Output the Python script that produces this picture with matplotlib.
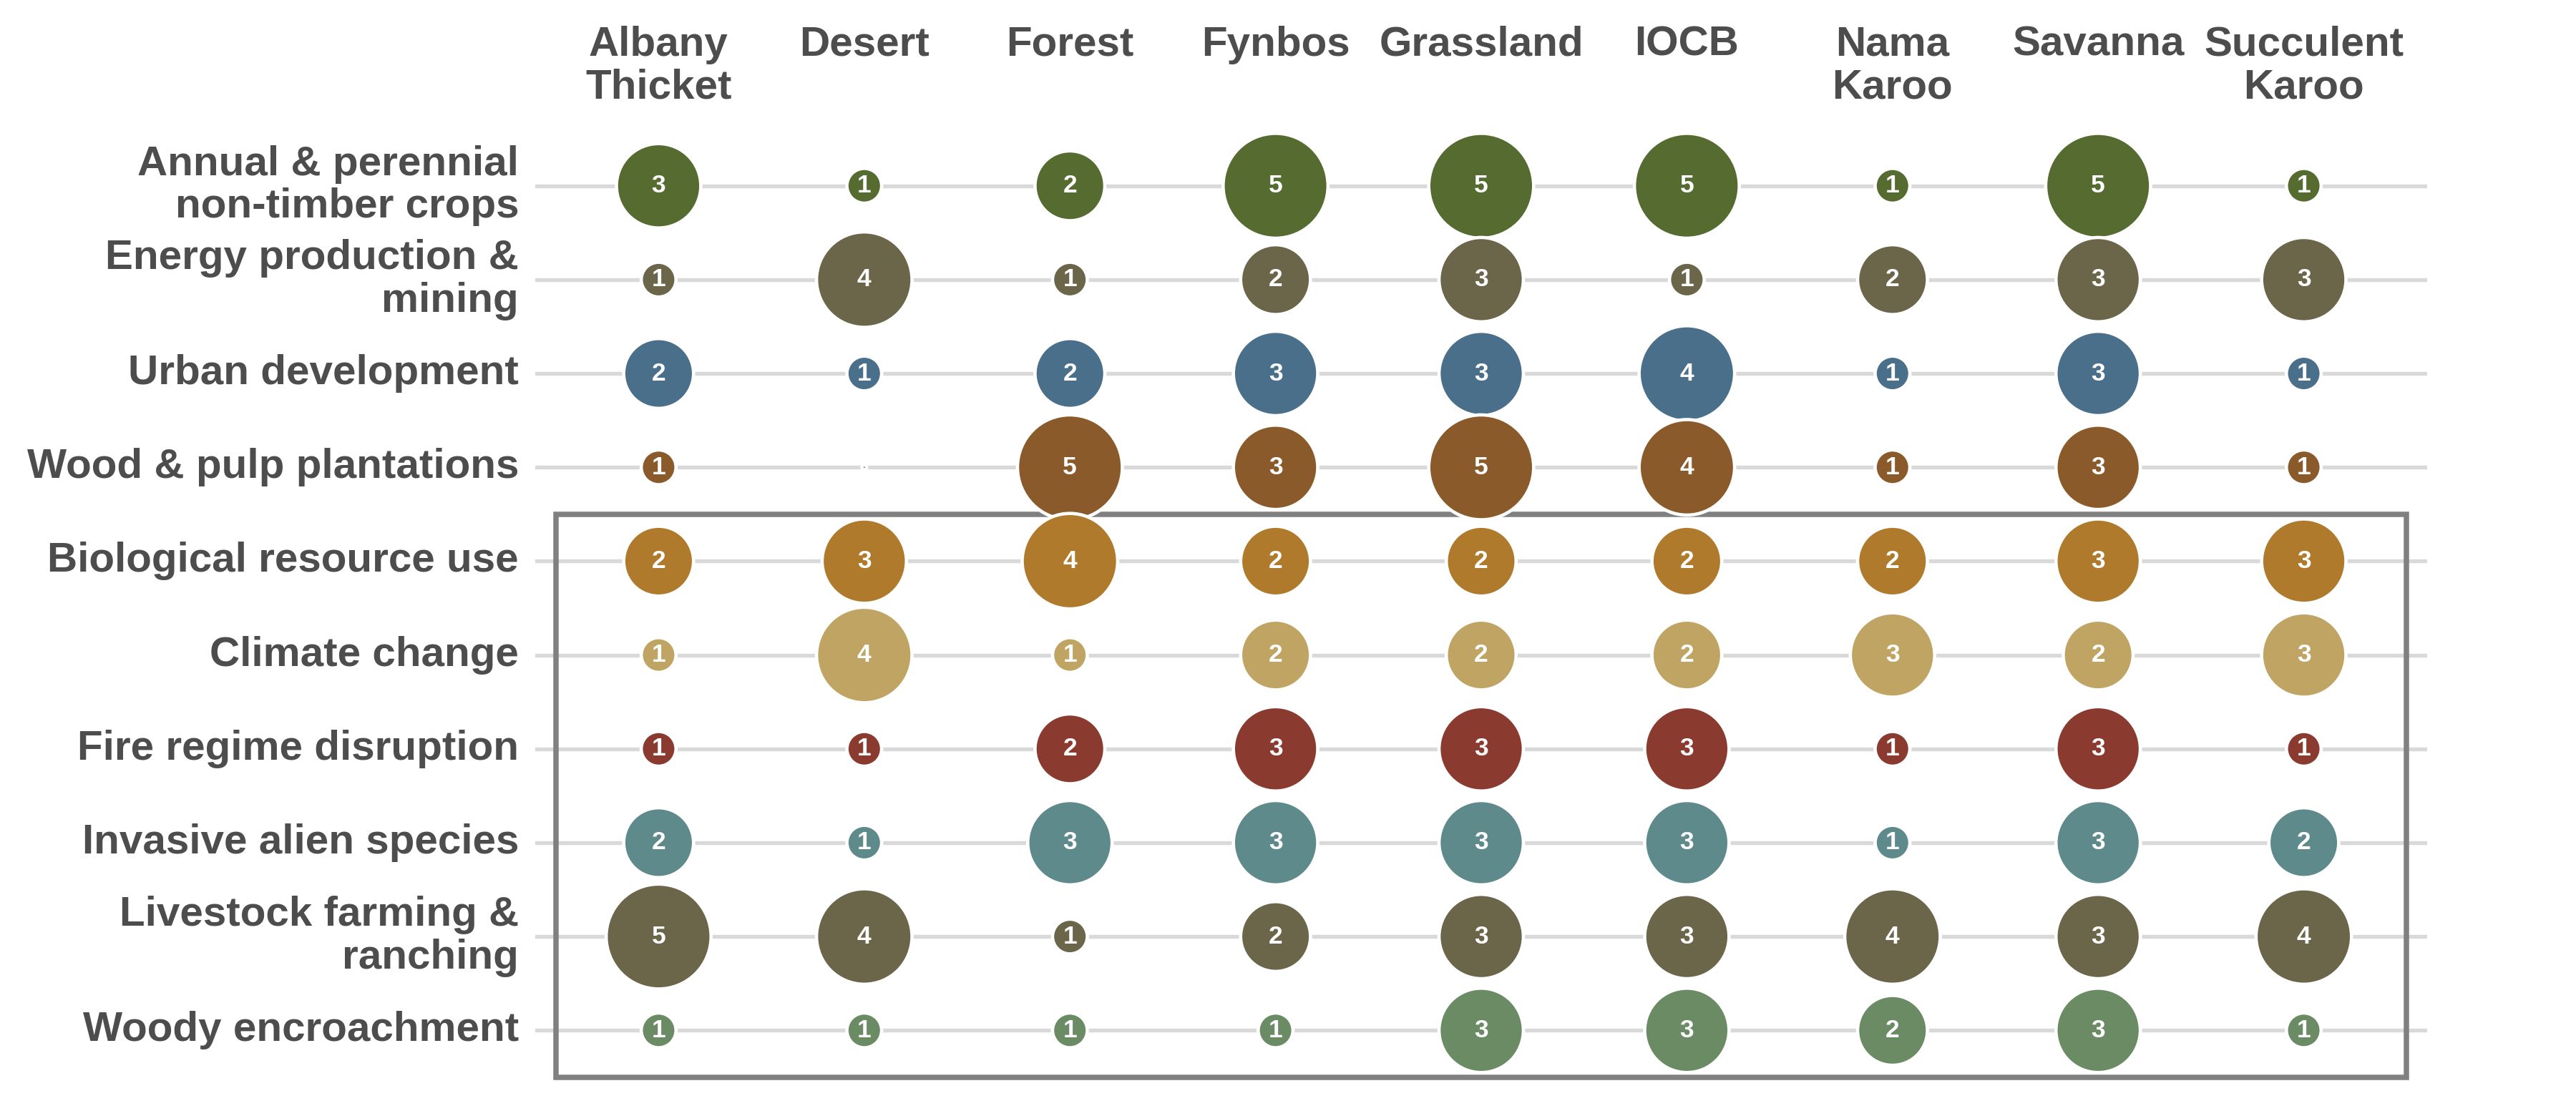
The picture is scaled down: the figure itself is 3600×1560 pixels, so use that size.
import numpy as np
import matplotlib.pyplot as plt
from matplotlib.patches import Rectangle
import matplotlib.transforms as mtransforms

plt.rcParams['font.family'] = ['Liberation Sans', 'DejaVu Sans']

biomes = ['Albany\nThicket', 'Desert', 'Forest', 'Fynbos', 'Grassland', 'IOCB',
          'Nama\nKaroo', 'Savanna', 'Succulent\nKaroo']

threats = ['Annual & perennial\nnon-timber crops', 'Energy production &\nmining',
           'Urban development', 'Wood & pulp plantations', 'Biological resource use',
           'Climate change', 'Fire regime disruption', 'Invasive alien species',
           'Livestock farming &\nranching', 'Woody encroachment']

crops = [3, 1, 2, 5, 5, 5, 1, 5, 1]
energy = [1, 4, 1, 2, 3, 1, 2, 3, 3]
urban = [2, 1, 2, 3, 3, 4, 1, 3, 1]
plantations = [1, 0, 5, 3, 5, 4, 1, 3, 1]
bio_use = [2, 3, 4, 2, 2, 2, 2, 3, 3]
climate = [1, 4, 1, 2, 2, 2, 3, 2, 3]
fire = [1, 1, 2, 3, 3, 3, 1, 3, 1]
invasive = [2, 1, 3, 3, 3, 3, 1, 3, 2]
livestock = [5, 4, 1, 2, 3, 3, 4, 3, 4]
woody = [1, 1, 1, 1, 3, 3, 2, 3, 1]

scores = [crops, energy, urban, plantations, bio_use, climate, fire, invasive,
          livestock, woody]

colors = ['#556B2F', '#6B6549', '#4A6F8A', '#8B5A2B', '#B07A2C',
          '#BFA463', '#8B3A2F', '#5F8A8B', '#6B6549', '#6A8B63']

DPI = 300
fig = plt.figure(figsize=(12, 5.2), dpi=DPI)
ax = fig.add_axes([748 / 3600, 1 - 1519 / 1560, (3392 - 748) / 3600, (1519 - 181) / 1560])
ax.set_xlim(-0.6, len(biomes) - 0.4)
ax.set_ylim(len(threats) - 0.4, -0.6)
ax.axis('off')

text_col = '#4D4D4D'
edge_lw = 1.1

# grid lines
for i in range(len(threats)):
    ax.axhline(i, color='#D9D9D9', lw=1.3, zorder=1)

# box round the second group of threats
ax.add_patch(Rectangle((-0.5, 3.5), len(biomes), 6, fill=False,
                       edgecolor='#808080', lw=1.8, zorder=2))


def diam_pt(v):
    # ggplot style area scale: 1 -> small, 5 -> large
    if v < 1:
        px = 2
    else:
        px = 44 + 98 * np.sqrt((v - 1) / 4)
    return px * 72 / DPI + edge_lw


for i, row in enumerate(scores):
    xs = np.arange(len(biomes))
    sizes = [diam_pt(v) ** 2 for v in row]
    ax.scatter(xs, [i] * len(xs), s=sizes, c=colors[i], edgecolors='white',
               linewidths=edge_lw, zorder=3)
    for x, v in zip(xs, row):
        if v > 0:
            ax.text(x, i, str(v), color='white', fontsize=8.5, fontweight='bold',
                    ha='center', va='center', zorder=4)

# row labels
for i, t in enumerate(threats):
    ax.text(-0.68, i, t, ha='right', va='center', fontsize=14, fontweight='bold',
            color=text_col, linespacing=1.13)

# column labels
trans = mtransforms.blended_transform_factory(ax.transData, fig.transFigure)
for j, b in enumerate(biomes):
    ax.text(j, 1 - 36 / 1560, b, transform=trans, ha='center', va='top',
            fontsize=14, fontweight='bold', color=text_col, linespacing=1.13)

fig.savefig('out.png', dpi=DPI, facecolor='white')
